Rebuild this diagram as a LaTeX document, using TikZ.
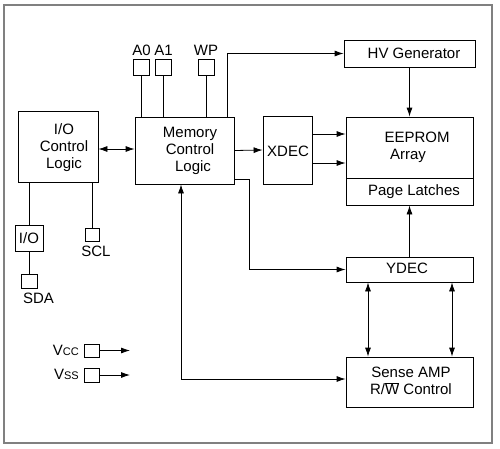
\documentclass[tikz,border=0pt]{standalone}
\usepackage{fontspec}
\setmainfont{Liberation Sans}
\usetikzlibrary{arrows.meta}
\begin{document}
\begin{tikzpicture}[x=1pt,y=-1pt,
  every node/.style={font=\fontsize{15}{17}\selectfont},
  box/.style={draw, line width=0.8pt, inner sep=0pt, anchor=center},
  pin/.style={draw, line width=0.8pt, inner sep=0pt, anchor=center, minimum width=16pt, minimum height=16pt},
  txt/.style={inner sep=0pt, align=center},
  lbl/.style={inner sep=0pt, anchor=base},
  wire/.style={line width=0.8pt},
  arr/.style={line width=0.8pt, -{Latex[length=9pt,width=6pt]}},
  barr/.style={line width=0.8pt, {Latex[length=9pt,width=6pt]}-{Latex[length=9pt,width=6pt]}}
]
\useasboundingbox (0,0) rectangle (500,448);
\draw[gray, line width=1.2pt] (4,5) rectangle (492,443);

% blocks
\node[box, minimum width=80pt, minimum height=71pt] (io) at (58,146.5) {};
\node[txt] (iot) at (64,148) {I/O\\Control\\Logic};
\node[box, minimum width=99pt, minimum height=67pt] (mcl) at (184.5,150.5) {};
\node[txt] (mclt) at (190,151) {Memory\\Control\\\hspace*{6pt}Logic};
\node[box, minimum width=131pt, minimum height=27pt] (hv) at (409.5,53.5) {};
\node[txt] (hvt) at (414,53) {HV Generator};
\node[box, minimum width=49pt, minimum height=68pt] (xdec) at (287.5,150) {};
\node[txt] (xdect) at (288,151) {XDEC};
\node[box, minimum width=127pt, minimum height=61pt] (ee) at (409.5,147.5) {};
\node[txt] (eet1) at (417,137) {EEPROM};
\node[txt] (eet2) at (408,156) {Array};
\node[box, minimum width=127pt, minimum height=27pt] (pl) at (409.5,191.5) {};
\node[txt] (plt) at (414,192) {Page Latches};
\node[box, minimum width=127pt, minimum height=25pt] (ydec) at (409.5,269.5) {};
\node[txt] (ydect) at (407,268.5) {YDEC};
\node[box, minimum width=127pt, minimum height=50pt] (sa) at (409.5,382) {};
\node[txt] (sat) at (411,381) {Sense AMP\\R/$\overline{\mbox{W}}$ Control};

% pins
\node[pin] (a0) at (141,67) {};
\node[pin] (a1) at (163,67) {};
\node[pin] (wp) at (206,67) {};
\node[lbl] (a0l) at (141.5,55) {A0};
\node[lbl] (a1l) at (163.5,55) {A1};
\node[lbl] (wpl) at (206,55) {WP};
\node[box, minimum width=28pt, minimum height=26pt] (iob) at (29,238) {};
\node[txt] (iobt) at (29,238) {I/O};
\node[pin, minimum width=16pt, minimum height=14pt] (sda) at (29,281) {};
\node[lbl] (sdal) at (38.5,303) {SDA};
\node[pin, minimum width=14pt, minimum height=13pt] (scl) at (92,234.5) {};
\node[lbl] (scll) at (96,256) {SCL};
\node[pin, minimum width=15pt, minimum height=13pt] (vcc) at (91.5,350.5) {};
\node[pin, minimum width=15pt, minimum height=14pt] (vss) at (91.5,375) {};
\node[lbl, anchor=base east] (vccl) at (79,355) {V{\fontsize{11}{11}\selectfont CC}};
\node[lbl, anchor=base east] (vssl) at (79,379) {V{\fontsize{11}{11}\selectfont SS}};
\coordinate (vcce) at (130,350.5);
\coordinate (vsse) at (130,375);

% connectors
\draw[wire] (a0.south) -- (a0.south |- mcl.north);
\draw[wire] (a1.south) -- (a1.south |- mcl.north);
\draw[wire] (wp.south) -- (wp.south |- mcl.north);
\coordinate (hvturn) at (227,52);
\draw[arr] (hvturn |- mcl.north) |- (hv.west);
\draw[arr] (hv.south) -- (ee.north);
\draw[barr] (io.east |- 0,149) -- (mcl.west |- 0,149);
\draw[arr] (mcl.east) -- (xdec.west);
\draw[arr] ([yshift=16pt]xdec.east) -- (ee.west |- 0,134);
\draw[arr] ([yshift=-13pt]xdec.east) -- (ee.west |- 0,163);
\coordinate (yturn) at (249,179);
\draw[arr] (mcl.east |- yturn) -- (yturn) |- (ydec.west);
\draw[arr] (ydec.north) -- (pl.south);
\draw[barr] ([xshift=-41.5pt]ydec.south) -- ([xshift=-41.5pt]sa.north);
\draw[barr] ([xshift=42.5pt]ydec.south) -- ([xshift=42.5pt]sa.north);
\coordinate (sturn) at (181,379);
\draw[barr] (mcl.south -| sturn) -- (sturn) -- (sturn -| sa.west);
\draw[wire] (io.south -| iob.north) -- (iob.north);
\draw[wire] (iob.south) -- (sda.north);
\draw[wire] (io.south -| scl.north) -- (scl.north);
\draw[arr] (vcc.east) -- (vcce);
\draw[arr] (vss.east) -- (vsse);
\end{tikzpicture}
\end{document}
